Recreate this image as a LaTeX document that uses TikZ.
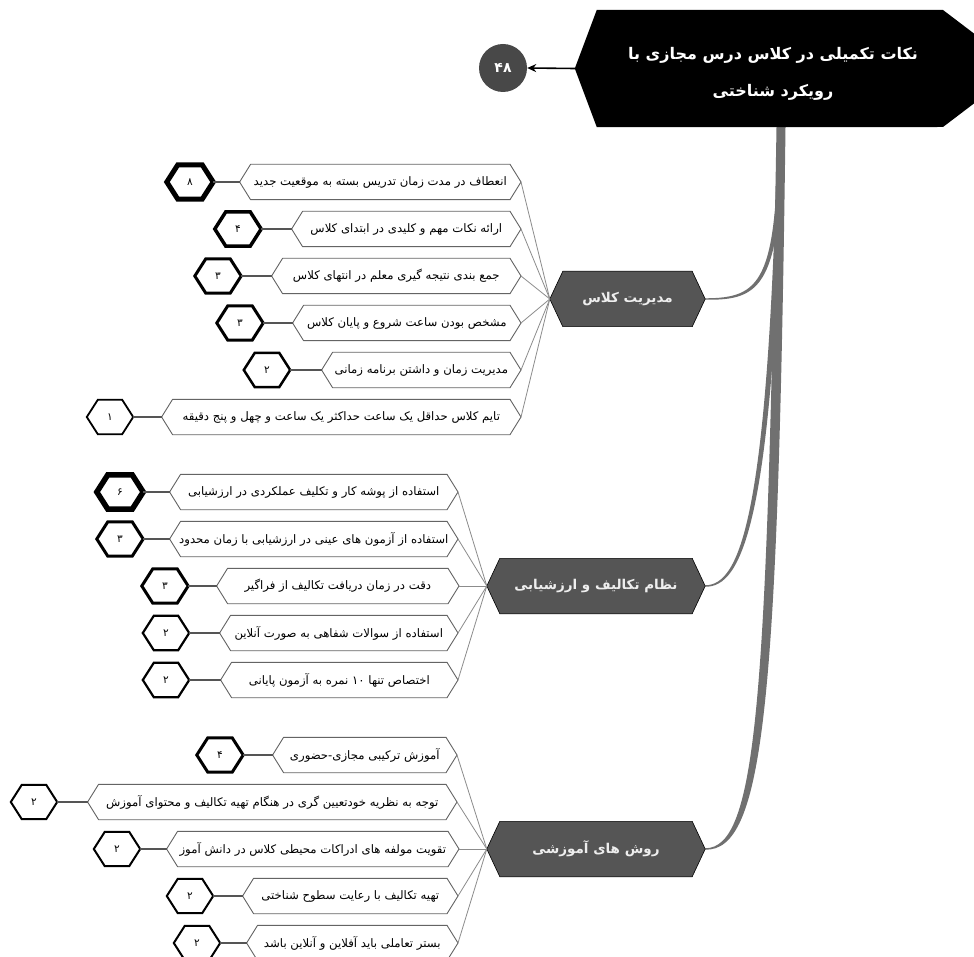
\documentclass[tikz,border=0pt]{standalone}
\usepackage{fontspec}
\usetikzlibrary{arrows.meta}
\TeXXeTstate=1
\newfontfamily\fa[Script=Arabic]{DejaVu Sans}
\definecolor{trunkc}{RGB}{112,112,112}
\definecolor{catfill}{RGB}{85,85,85}
\definecolor{cattext}{RGB}{238,238,238}
\definecolor{leafedge}{RGB}{100,100,100}
\definecolor{linkc}{RGB}{140,140,140}
\definecolor{badgelink}{RGB}{85,85,85}
\definecolor{circfill}{RGB}{72,72,72}
\pgfdeclarelayer{canvas}
\pgfdeclarelayer{back}
\pgfdeclarelayer{bg}
\pgfsetlayers{canvas,back,bg,main}
\tikzset{
  leafbox/.style={minimum height=35, inner sep=0, text=black, font=\fa\fontsize{11.7}{13}\selectfont},
  badgebox/.style={minimum width=46, minimum height=34, inner sep=0, text=black, font=\fa\fontsize{10.5}{12}\selectfont},
  catbox/.style={minimum height=55, inner sep=0, text=cattext, font=\fa\bfseries\fontsize{13.5}{16}\selectfont},
  leafline/.style={draw=leafedge, line width=0.9pt, fill=white, line join=miter},
  linkline/.style={draw=linkc, line width=0.8pt},
  badgelinkline/.style={draw=badgelink, line width=1.4pt},
}
\newcommand\hexshape[3]{\begin{pgfonlayer}{bg}\path[#3] (#1.west) -- ([xshift=#2]#1.north west) -- ([xshift=-#2]#1.north east) -- (#1.east) -- ([xshift=-#2]#1.south east) -- ([xshift=#2]#1.south west) -- cycle;\end{pgfonlayer}}
% name, left, right, y, badge x, thickness, value, text, category
\newcommand\leafrow[9]{%
  \node[leafbox, minimum width={#3-#2}, anchor=east] (#1) at (#3,#4) {#8};
  \hexshape{#1}{11}{leafline}
  \node[badgebox] (#1b) at (#5,#4) {#7};
  \hexshape{#1b}{11}{draw=black, line width=#6pt, fill=white, line join=miter}
  \draw[badgelinkline] (#1b.east) -- (#1.west);
  \draw[linkline] (#1.east) -- (#9.west);
}
\begin{document}
\begin{tikzpicture}[x=1pt,y=-1pt]
\useasboundingbox (0,0) rectangle (974,957);
\begin{pgfonlayer}{canvas}
\fill[white] (0,0) rectangle (974,957);
\end{pgfonlayer}
\clip (0,0) rectangle (974,957);

% root
\node[minimum width=396, minimum height=117, inner sep=0] (root) at (773,68.5) {};
\node[inner sep=0, text=white, align=center,
      font=\fa\bfseries\fontsize{16}{37}\selectfont] (roottext) at (773,74)
  {\beginR نکات تکمیلی در کلاس درس مجازی با\endR\\\beginR رویکرد شناختی\endR};
\begin{pgfonlayer}{bg}
\fill[black] (root.west) -- ([xshift=22]root.north west) -- (943,10) -- (1020,68.5) -- (943,127) -- ([xshift=22]root.south west) -- cycle;
\end{pgfonlayer}
\node[circle, fill=circfill, minimum size=48, inner sep=0, text=white,
      font=\fa\bfseries\fontsize{14}{16}\selectfont] (c48) at (503,68) {۴۸};
\draw[-{Stealth[length=9pt,width=8pt]}, line width=1.6pt] (root.west) -- (c48.east);

% categories
\node[catbox, minimum width=155] (c1) at (627.5,299) {\beginR مدیریت کلاس\endR};
\hexshape{c1}{13}{fill=catfill, draw=black, line width=0.6pt}
\node[catbox, minimum width=218] (c2) at (596,586) {\beginR نظام تکالیف و ارزشیابی\endR};
\hexshape{c2}{13}{fill=catfill, draw=black, line width=0.6pt}
\node[catbox, minimum width=218] (c3) at (596,849) {\beginR روش های آموزشی\endR};
\hexshape{c3}{13}{fill=catfill, draw=black, line width=0.6pt}

% trunk and branches
\coordinate (tt) at (781,127);
\begin{pgfonlayer}{back}
\fill[trunkc] ([xshift=-3]tt) .. controls (777,283) and (760,298) .. ([yshift=0.7]c1.east) -- ([yshift=-0.7]c1.east) .. controls (761,300.5) and (782,287) .. ([xshift=1]tt) -- cycle;
\fill[trunkc] ([xshift=-3.5]tt) .. controls (768.5,518) and (740,585) .. ([yshift=0.7]c2.east) -- ([yshift=-0.7]c2.east) .. controls (742,587.5) and (774.5,522) .. ([xshift=1.5]tt) -- cycle;
\fill[trunkc] ([xshift=-4.5]tt) .. controls (767,700) and (757,848) .. ([yshift=0.7]c3.east) -- ([yshift=-0.7]c3.east) .. controls (764,851) and (778,705) .. ([xshift=4.5]tt) -- cycle;
\end{pgfonlayer}

% group 1
\leafrow{a1}{240}{521}{182}{190}{5}{۸}{\beginR انعطاف در مدت زمان تدریس بسته به موقعیت جدید\endR}{c1}
\leafrow{a2}{292}{521}{229}{238}{3.5}{۴}{\beginR ارائه نکات مهم و کلیدی در ابتدای کلاس\endR}{c1}
\leafrow{a3}{272}{521}{276}{218}{3}{۳}{\beginR جمع بندی نتیجه گیری معلم در انتهای کلاس\endR}{c1}
\leafrow{a4}{293}{521}{323}{240}{3}{۳}{\beginR مشخص بودن ساعت شروع و پایان کلاس\endR}{c1}
\leafrow{a5}{322}{521}{370}{267}{2.5}{۲}{\beginR مدیریت زمان و داشتن برنامه زمانی\endR}{c1}
\leafrow{a6}{162}{521}{417}{110}{1.8}{۱}{\beginR تایم کلاس حداقل یک ساعت حداکثر یک ساعت و چهل و پنج دقیقه\endR}{c1}

% group 2
\leafrow{b1}{170}{458}{492}{120}{5.5}{۶}{\beginR استفاده از پوشه کار و تکلیف عملکردی در ارزشیابی\endR}{c2}
\leafrow{b2}{170}{458}{539}{120}{3}{۳}{\beginR استفاده از آزمون های عینی در ارزشیابی با زمان محدود\endR}{c2}
\leafrow{b3}{217}{459}{586}{165}{3}{۳}{\beginR دقت در زمان دریافت تکالیف از فراگیر\endR}{c2}
\leafrow{b4}{220}{458}{633}{166}{2.2}{۲}{\beginR استفاده از سوالات شفاهی به صورت آنلاین\endR}{c2}
\leafrow{b5}{221}{458}{680}{166}{2.2}{۲}{\beginR اختصاص تنها ۱۰ نمره به آزمون پایانی\endR}{c2}

% group 3
\leafrow{d1}{273}{457}{755}{220}{3}{۴}{\beginR آموزش ترکیبی مجازی-حضوری\endR}{c3}
\leafrow{d2}{88}{457}{802}{34}{2}{۲}{\beginR توجه به نظریه خودتعیین گری در هنگام تهیه تکالیف و محتوای آموزش\endR}{c3}
\leafrow{d3}{167}{459}{849}{117}{2}{۲}{\beginR تقویت مولفه های ادراکات محیطی کلاس در دانش آموز\endR}{c3}
\leafrow{d4}{243}{458}{896}{190}{2}{۲}{\beginR تهیه تکالیف با رعایت سطوح شناختی\endR}{c3}
\leafrow{d5}{247}{458}{943}{197}{2}{۲}{\beginR بستر تعاملی باید آفلاین و آنلاین باشد\endR}{c3}
\end{tikzpicture}
\end{document}
